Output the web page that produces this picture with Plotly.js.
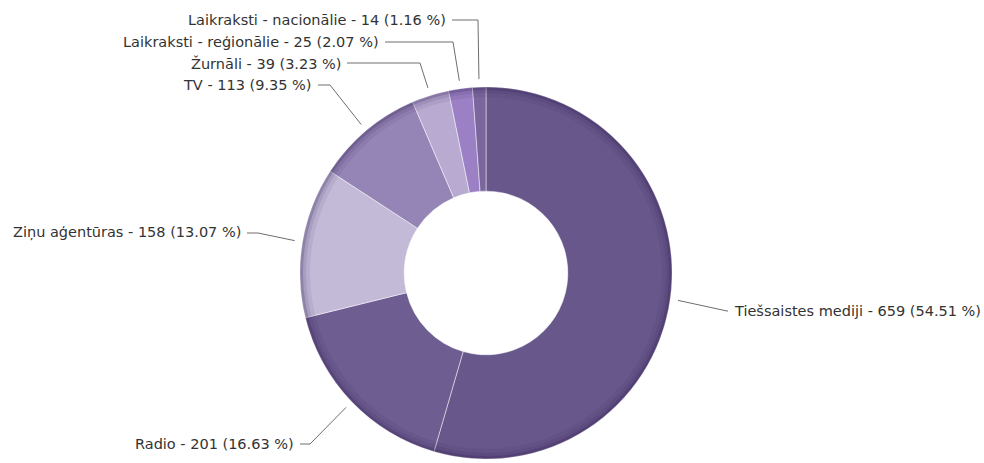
<!DOCTYPE html>
<html><head><meta charset="utf-8">
<script src="https://cdn.plot.ly/plotly-3.0.1.min.js"></script>
<style>html,body{margin:0;padding:0;background:#fff}#chart{width:984px;height:463px}</style>
</head><body><div id="chart"></div>
<script>
// ---- data ----
const categories = ["Tiešsaistes mediji", "Radio", "Ziņu aģentūras", "TV", "Žurnāli", "Laikraksti - reģionālie", "Laikraksti - nacionālie"];
const counts = [659, 201, 158, 113, 39, 25, 14];
const sliceColors = ["#67578a", "#6d5d90", "#c3bad8", "#9585b6", "#b8aad1", "#9b80c5", "#7b679e"];

// ---- layout (pixels) ----
const W = 984, H = 463;
const cx = 486, cy = 273, R = 186, holeFrac = 0.44;
// label anchor point (text end next to line), side of text, elbow x
const labelLayout = [
  {x: 732, y: 311, anchor: "left",  elbowX: 727},
  {x: 296, y: 444, anchor: "right", elbowX: 310},
  {x: 243, y: 233, anchor: "right", elbowX: 258},
  {x: 314, y: 85,  anchor: "right", elbowX: 330},
  {x: 343, y: 63,  anchor: "right", elbowX: 420},
  {x: 381, y: 42,  anchor: "right", elbowX: 453},
  {x: 448, y: 20,  anchor: "right", elbowX: 478}
];

const px = v => v / W;
const py = v => 1 - v / H;
const total = counts.reduce((a, b) => a + b, 0);

const annotations = [];
const shapes = [];
let cum = 0;
counts.forEach((v, i) => {
  const mid = (cum + v / 2) / total * 2 * Math.PI;
  cum += v;
  const Ra = R + 8;
  const ax = cx + Ra * Math.sin(mid), ay = cy - Ra * Math.cos(mid);
  const L = labelLayout[i];
  const pct = (v / total * 100).toFixed(2);
  annotations.push({
    xref: "paper", yref: "paper", x: px(L.x), y: py(L.y),
    xanchor: L.anchor, yanchor: "middle", showarrow: false,
    text: categories[i] + " - " + v + " (" + pct + " %)",
    font: {family: "DejaVu Sans", size: 14.5, color: "#333333"}
  });
  const tx = L.anchor === "right" ? L.x + 4 : L.x - 4;
  const path = "M" + px(tx) + "," + py(L.y) + " L" + px(L.elbowX) + "," + py(L.y) + " L" + px(ax) + "," + py(ay);
  shapes.push({type: "path", xref: "paper", yref: "paper", path: path,
    line: {color: "#6e6e6e", width: 1}});
});

// subtle rim shading on the ring's outer edge
[[1.5, 0.35, 3], [4.5, 0.18, 3], [8, 0.08, 4]].forEach(([off, a, w]) => {
  const r = R - off;
  shapes.push({type: "circle", xref: "paper", yref: "paper", layer: "above",
    x0: px(cx - r), x1: px(cx + r), y0: py(cy + r), y1: py(cy - r),
    line: {color: "rgba(45,25,80," + a + ")", width: w}});
});

const trace = {
  type: "pie",
  labels: categories,
  values: counts,
  sort: false,
  direction: "clockwise",
  rotation: 0,
  hole: holeFrac,
  textinfo: "none",
  hoverinfo: "none",
  marker: {colors: sliceColors, line: {color: "rgba(255,255,255,0.6)", width: 0.8}},
  domain: {x: [px(cx - R), px(cx + R)], y: [py(cy + R), py(cy - R)]}
};

Plotly.newPlot("chart", [trace], {
  width: W, height: H,
  margin: {l: 0, r: 0, t: 0, b: 0},
  paper_bgcolor: "#ffffff",
  showlegend: false,
  annotations: annotations,
  shapes: shapes
}, {staticPlot: true});
</script>
</body></html>
